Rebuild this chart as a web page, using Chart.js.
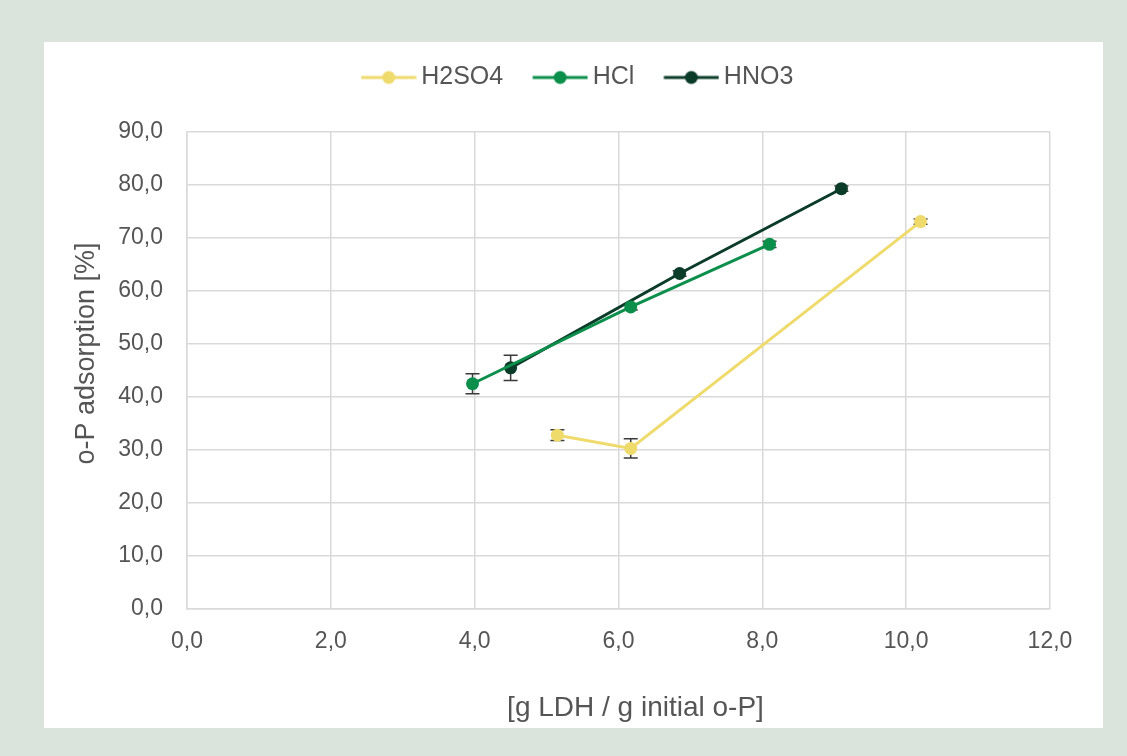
<!DOCTYPE html>
<html>
<head>
<meta charset="utf-8">
<script src="https://cdn.jsdelivr.net/npm/chart.js@4.4.1/dist/chart.umd.min.js"></script>
<style>
  html, body { margin: 0; padding: 0; background: #dae4dd; width: 1127px; height: 756px; overflow: hidden; }
  #wrap { position: absolute; left: 44px; top: 42px; width: 1059px; height: 686px; background: #ffffff; }
  canvas { display: block; }
</style>
</head>
<body>
<div id="wrap"><canvas id="c" width="1059" height="686"></canvas></div>
<script>
// ---- Data ----
const seriesNames = ["H2SO4", "HCl", "HNO3"];
const h2so4X = [5.15, 6.17, 10.2];
const h2so4Y = [32.8, 30.3, 73.1];
const h2so4Err = [1.0, 1.8, 0.5];
const hclX = [3.97, 6.17, 8.1];
const hclY = [42.5, 57.0, 68.8];
const hclErr = [1.9, 0.6, 0.6];
const hno3X = [4.5, 6.85, 9.1];
const hno3Y = [45.5, 63.3, 79.3];
const hno3Err = [2.4, 0.5, 0.5];
const xTicks = [0, 2, 4, 6, 8, 10, 12];
const yTicks = [0, 10, 20, 30, 40, 50, 60, 70, 80, 90];
const xTitle = '[g LDH / g initial o-P]';
const yTitle = 'o-P adsorption [%]';
const colors = ["#efda6c", "#0b8f4b", "#0b3b29"];

function pts(xs, ys, es) { return xs.map((x, i) => ({ x: x, y: ys[i], err: es[i] })); }
const allData = [pts(h2so4X, h2so4Y, h2so4Err), pts(hclX, hclY, hclErr), pts(hno3X, hno3Y, hno3Err)];

const FONT = 'Liberation Sans, Arial, sans-serif';
const TEXT = '#555555';
const LEG_FS = 25;
const LEG_PAD = 29;

function legendIcon(color) {
  const cv = document.createElement('canvas');
  cv.width = 64; cv.height = 16;
  const g = cv.getContext('2d');
  g.strokeStyle = color; g.lineWidth = 3;
  g.beginPath(); g.moveTo(8.5, 8); g.lineTo(63.5, 8); g.stroke();
  g.fillStyle = color;
  g.beginPath(); g.arc(36, 8, 6.5, 0, Math.PI * 2); g.fill();
  return cv;
}
const icons = colors.map(legendIcon);

const fmt = v => Number(v).toFixed(1).replace('.', ',');

const errorBars = {
  id: 'errorBars',
  beforeDatasetsDraw(chart) {
    const ctx = chart.ctx, xs = chart.scales.x, ys = chart.scales.y;
    ctx.save();
    ctx.strokeStyle = '#3a3a3a';
    ctx.lineWidth = 1.5;
    chart.data.datasets.forEach(ds => {
      ds.data.forEach(p => {
        const px = xs.getPixelForValue(p.x);
        const top = ys.getPixelForValue(p.y + p.err);
        const bot = ys.getPixelForValue(p.y - p.err);
        ctx.beginPath();
        ctx.moveTo(px, top); ctx.lineTo(px, bot);
        ctx.moveTo(px - 7, top); ctx.lineTo(px + 7, top);
        ctx.moveTo(px - 7, bot); ctx.lineTo(px + 7, bot);
        ctx.stroke();
      });
    });
    ctx.restore();
  }
};

// Axis titles, placed like the original (slightly off the plot centre)
const axisTitles = {
  id: 'axisTitles',
  afterDraw(chart) {
    const ctx = chart.ctx, area = chart.chartArea;
    ctx.save();
    ctx.fillStyle = TEXT;
    ctx.textAlign = 'center';
    ctx.textBaseline = 'middle';
    ctx.font = '28px ' + FONT;
    ctx.fillText(xTitle, (area.left + area.right) / 2 + 17, area.bottom + 99);
    ctx.translate(42.5, (area.top + area.bottom) / 2 - 17);
    ctx.rotate(-Math.PI / 2);
    ctx.font = '27px ' + FONT;
    ctx.fillText(yTitle, 0, 0);
    ctx.restore();
  }
};

// Fix legend block height and position
const legendPlace = {
  id: 'legendPlace',
  afterInit(chart) {
    const lg = chart.legend;
    if (!lg || lg._wrapped) return;
    const orig = lg.fit.bind(lg);
    lg.fit = function () { orig(); this.height = 90; };
    lg._wrapped = true;
  },
  afterLayout(chart) {
    const lg = chart.legend;
    if (!lg) return;
    const dy = 35.5 - (LEG_PAD + LEG_FS / 2) - lg.top;
    lg.top += dy; lg.bottom += dy;
    lg.left += 30; lg.right += 30;
  }
};

new Chart(document.getElementById('c'), {
  type: 'scatter',
  data: {
    datasets: seriesNames.map((n, i) => ({
      label: n,
      data: allData[i],
      showLine: true,
      borderColor: colors[i],
      backgroundColor: colors[i],
      borderWidth: 3,
      pointStyle: 'circle',
      pointRadius: 6.5,
      pointHoverRadius: 6.5,
      pointBorderWidth: 0,
      pointBackgroundColor: colors[i]
    }))
  },
  options: {
    responsive: false,
    animation: false,
    events: [],
    layout: { padding: { top: 0, left: 0, right: 53, bottom: 0 } },
    plugins: {
      tooltip: { enabled: false },
      legend: {
        position: 'top',
        labels: {
          usePointStyle: true,
          pointStyleWidth: 48,
          boxHeight: 16,
          padding: LEG_PAD,
          color: TEXT,
          font: { family: FONT, size: LEG_FS },
          generateLabels(chart) {
            return chart.data.datasets.map((ds, i) => ({
              text: ds.label,
              fillStyle: colors[i],
              strokeStyle: colors[i],
              lineWidth: 0,
              pointStyle: icons[i],
              datasetIndex: i,
              hidden: false,
              fontColor: TEXT
            }));
          }
        }
      }
    },
    scales: {
      x: {
        type: 'linear',
        min: 0, max: 12,
        afterBuildTicks(s) { s.ticks = xTicks.map(v => ({ value: v })); },
        afterFit(s) { s.height = 119; },
        grid: { color: '#d9d9d9', lineWidth: 1.5, drawTicks: false },
        border: { color: '#d9d9d9', width: 1.5 },
        ticks: {
          padding: 19,
          color: TEXT,
          font: { family: FONT, size: 23 },
          callback: v => fmt(v)
        },
        title: { display: false }
      },
      y: {
        type: 'linear',
        min: 0, max: 90,
        afterBuildTicks(s) { s.ticks = yTicks.map(v => ({ value: v })); },
        afterFit(s) { s.width = 143; },
        grid: { color: '#d9d9d9', lineWidth: 1.5, drawTicks: false },
        border: { color: '#d9d9d9', width: 1.5 },
        ticks: {
          padding: 24,
          color: TEXT,
          font: { family: FONT, size: 23 },
          callback: v => fmt(v)
        },
        title: { display: false }
      }
    }
  },
  plugins: [errorBars, axisTitles, legendPlace]
});
</script>
</body>
</html>
